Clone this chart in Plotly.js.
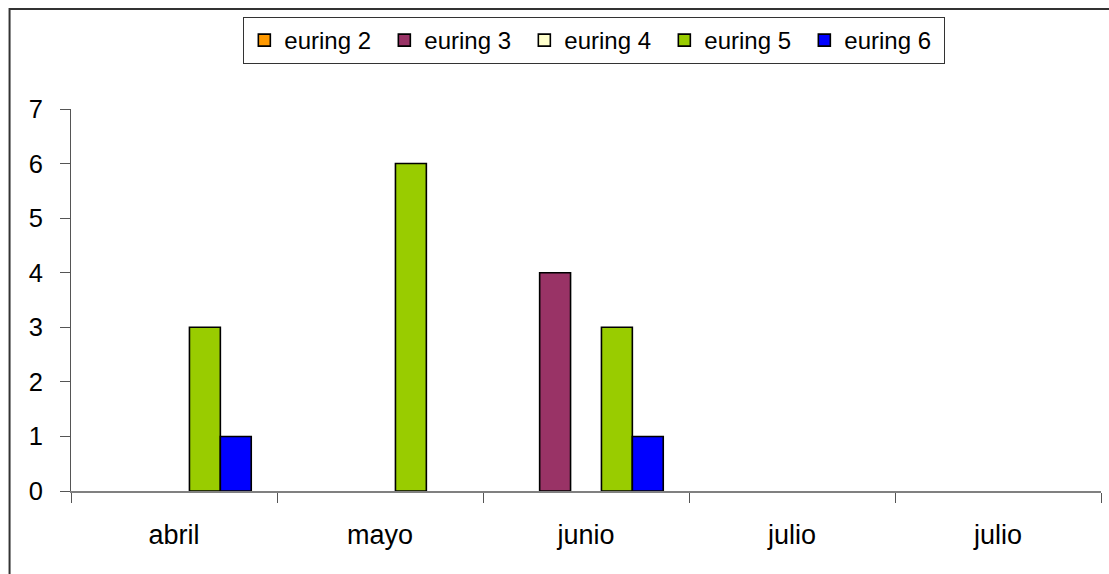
<!DOCTYPE html>
<html>
<head>
<meta charset="utf-8">
<script src="https://cdn.plot.ly/plotly-3.0.1.min.js"></script>
<style>
  html, body { margin: 0; padding: 0; background: #fff; }
  #chart { width: 1109px; height: 574px; }
</style>
</head>
<body>
<div id="chart"></div>
<script>
// Data
var categories = ["abril", "mayo", "junio", "julio", "julio"];
var seriesNames = ["euring 2", "euring 3", "euring 4", "euring 5", "euring 6"];
var euring2 = [0, 0, 0, 0, 0];
var euring3 = [0, 0, 4, 0, 0];
var euring4 = [0, 0, 0, 0, 0];
var euring5 = [3, 6, 3, 0, 0];
var euring6 = [1, 0, 1, 0, 0];
var seriesColors = ["#FF9900", "#993366", "#FFFFCC", "#99CC00", "#0000FF"];
var yTicks = [0, 1, 2, 3, 4, 5, 6, 7];

var allSeries = [euring2, euring3, euring4, euring5, euring6];
var xIdx = categories.map(function (c, i) { return i; });

var traces = allSeries.map(function (vals, s) {
  return {
    type: "bar",
    name: seriesNames[s],
    x: xIdx,
    y: vals.map(function (v) { return v === 0 ? null : v; }),
    marker: { color: seriesColors[s], line: { color: "#000000", width: 1.6 } },
    hoverinfo: "name+y"
  };
});

// plot area geometry helpers (pixels -> paper)
var L = 70.5, R = 1101.5, T = 109, B = 491;
function px2paperX(px) { return (px - L) / (R - L); }
function px2paperY(py) { return (B - py) / (B - T); }

var layout = {
  width: 1109,
  height: 574,
  margin: { l: L, r: 1109 - R, t: T, b: 574 - B, pad: 0 },
  paper_bgcolor: "#ffffff",
  plot_bgcolor: "#ffffff",
  font: { family: "Liberation Sans, Arial, sans-serif", size: 25, color: "#000000" },
  barmode: "group",
  bargap: 0.25,
  bargroupgap: 0,
  showlegend: true,
  legend: {
    orientation: "h",
    x: px2paperX(243),
    y: px2paperY(17),
    xanchor: "left",
    yanchor: "top",
    bordercolor: "#333333",
    borderwidth: 1,
    bgcolor: "#ffffff",
    font: { size: 24, family: "Liberation Sans, Arial, sans-serif" },
    entrywidth: 95,
    entrywidthmode: "pixels",
    traceorder: "normal",
    itemclick: false
  },
  xaxis: {
    type: "linear",
    range: [-0.5, categories.length - 0.5],
    tickmode: "array",
    tickvals: xIdx,
    ticktext: categories,
    ticks: "",
    tickfont: { size: 27 },
    showgrid: false,
    zeroline: false,
    showline: true,
    linecolor: "#808080",
    linewidth: 1.5,
    layer: "below traces",
    ticklabelstandoff: 19,
    minor: {
      tickmode: "linear",
      tick0: -0.5,
      dtick: 1,
      ticks: "outside",
      ticklen: 10,
      tickwidth: 1,
      tickcolor: "#555555",
      showgrid: false
    },
    fixedrange: true
  },
  yaxis: {
    range: [0, 7],
    tickmode: "array",
    tickvals: yTicks,
    ticks: "outside",
    ticklen: 10,
    tickwidth: 1,
    tickcolor: "#555555",
    tickfont: { size: 25.5 },
    showgrid: false,
    zeroline: false,
    showline: true,
    linecolor: "#555555",
    linewidth: 1,
    layer: "below traces",
    ticklabelstandoff: 12,
    fixedrange: true
  },
  shapes: [
    {
      type: "rect",
      xref: "paper", yref: "paper",
      x0: px2paperX(9), x1: px2paperX(1200),
      y0: px2paperY(700), y1: px2paperY(9),
      line: { color: "#333333", width: 2 },
      fillcolor: "rgba(0,0,0,0)",
      layer: "below"
    }
  ]
};

Plotly.newPlot("chart", traces, layout, { displayModeBar: false, staticPlot: true });
</script>
</body>
</html>
